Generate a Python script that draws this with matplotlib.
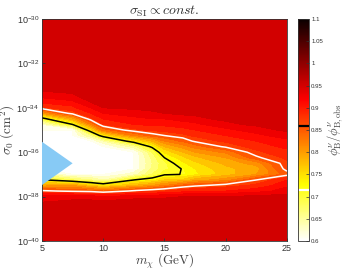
import numpy as np
import matplotlib
matplotlib.use("Agg")
import matplotlib.pyplot as plt
from matplotlib.colors import Normalize
from matplotlib.cm import ScalarMappable

plt.rcParams['font.family'] = ['Liberation Sans', 'DejaVu Sans']
plt.rcParams['mathtext.fontset'] = 'cm'

# dark matter mass grid (GeV)
m_chi = [5, 7.5, 9, 10, 12.5, 14, 15, 16.5, 17.5, 20, 22.5, 25]
# log10 of sigma_0 (cm^2)
log_sigma = [-40, -39, -38.5, -38.25, -38, -37.75, -37.5, -37.25, -37, -36.75,
             -36.5, -36.25, -36, -35.75, -35.5, -35.25, -35, -34.75, -34.5,
             -34.25, -34, -33.75, -33.5, -33.25, -33, -32, -30]

# phi_B / phi_B,obs, one list per mass (bottom -> top in log_sigma)
ratio_cols = [
    [0.95, 0.95, 0.95, 0.94, 0.925, 0.865, 0.79, 0.72, 0.64, 0.6, 0.6, 0.6, 0.6, 0.6,
     0.6, 0.6, 0.6, 0.62, 0.70, 0.80, 0.875, 0.905, 0.925, 0.94, 0.95, 0.95, 0.95],
    [0.95, 0.95, 0.95, 0.945, 0.93, 0.855, 0.80, 0.68, 0.6, 0.6, 0.6, 0.6, 0.6, 0.6,
     0.6, 0.6, 0.6, 0.715, 0.79, 0.87, 0.895, 0.915, 0.935, 0.945, 0.95, 0.95, 0.95],
    [0.95, 0.95, 0.95, 0.945, 0.93, 0.85, 0.76, 0.66, 0.6, 0.6, 0.6, 0.6, 0.6, 0.6,
     0.6, 0.66, 0.75, 0.82, 0.875, 0.9, 0.92, 0.94, 0.95, 0.95, 0.95, 0.95, 0.95],
    [0.95, 0.95, 0.95, 0.945, 0.92, 0.84, 0.74, 0.64, 0.6, 0.6, 0.6, 0.6, 0.6, 0.6,
     0.64, 0.74, 0.83, 0.88, 0.9, 0.92, 0.94, 0.95, 0.95, 0.95, 0.95, 0.95, 0.95],
    [0.95, 0.95, 0.95, 0.95, 0.93, 0.865, 0.78, 0.715, 0.63, 0.6, 0.6, 0.6, 0.6, 0.65,
     0.74, 0.82, 0.875, 0.9, 0.915, 0.93, 0.945, 0.95, 0.95, 0.95, 0.95, 0.95, 0.95],
    [0.95, 0.95, 0.95, 0.95, 0.93, 0.875, 0.80, 0.73, 0.68, 0.665, 0.66, 0.665, 0.68, 0.725,
     0.78, 0.85, 0.885, 0.905, 0.92, 0.935, 0.95, 0.95, 0.95, 0.95, 0.95, 0.95, 0.95],
    [0.95, 0.95, 0.95, 0.95, 0.935, 0.88, 0.82, 0.76, 0.71, 0.695, 0.695, 0.715, 0.745, 0.78,
     0.82, 0.86, 0.89, 0.905, 0.92, 0.94, 0.95, 0.95, 0.95, 0.95, 0.95, 0.95, 0.95],
    [0.95, 0.95, 0.95, 0.95, 0.94, 0.89, 0.845, 0.765, 0.716, 0.717, 0.735, 0.755, 0.78, 0.81,
     0.845, 0.875, 0.895, 0.91, 0.93, 0.945, 0.95, 0.95, 0.95, 0.95, 0.95, 0.95, 0.95],
    [0.95, 0.95, 0.95, 0.95, 0.94, 0.895, 0.855, 0.79, 0.735, 0.74, 0.755, 0.775, 0.80, 0.83,
     0.865, 0.885, 0.9, 0.915, 0.935, 0.945, 0.95, 0.95, 0.95, 0.95, 0.95, 0.95, 0.95],
    [0.95, 0.95, 0.95, 0.95, 0.94, 0.9, 0.87, 0.81, 0.77, 0.775, 0.785, 0.8, 0.825, 0.865,
     0.885, 0.9, 0.915, 0.935, 0.945, 0.95, 0.95, 0.95, 0.95, 0.95, 0.95, 0.95, 0.95],
    [0.95, 0.95, 0.95, 0.95, 0.945, 0.91, 0.885, 0.86, 0.80, 0.79, 0.81, 0.855, 0.875, 0.89,
     0.9, 0.915, 0.93, 0.945, 0.95, 0.95, 0.95, 0.95, 0.95, 0.95, 0.95, 0.95, 0.95],
    [0.95, 0.95, 0.95, 0.95, 0.945, 0.93, 0.915, 0.9, 0.85, 0.87, 0.875, 0.885, 0.895, 0.905,
     0.915, 0.93, 0.945, 0.95, 0.95, 0.95, 0.95, 0.95, 0.95, 0.95, 0.95, 0.95, 0.95],
]

# excluded wedge (blue triangle)
tri_m = [5, 7.5, 5]
tri_log_sigma = [-35.53, -36.5, -37.48]

contour_levels = [0.715, 0.86]
cbar_ticks = [0.6, 0.65, 0.7, 0.75, 0.8, 0.85, 0.9, 0.95, 1.0, 1.05, 1.1]

sigma = 10.0 ** np.array(log_sigma)
Z = np.array(ratio_cols).T
X, Y = np.meshgrid(m_chi, sigma)

fig = plt.figure(figsize=(3.45, 2.7), dpi=100)
ax = fig.add_axes([0.1217, 0.1074, 0.7101, 0.8222])
cax = fig.add_axes([0.8638, 0.1074, 0.0319, 0.8222])

norm = Normalize(0.6, 1.1)
ax.contourf(X, Y, Z, levels=np.arange(0.58, 1.101, 0.02), cmap='hot_r', norm=norm)
ax.contour(X, Y, Z, levels=[contour_levels[0]], colors='black', linewidths=1.1)
ax.contour(X, Y, Z, levels=[contour_levels[1]], colors='white', linewidths=1.1)
ax.fill(tri_m, 10.0 ** np.array(tri_log_sigma), color='#87CAF5', lw=0, zorder=5)

ax.set_yscale('log')
ax.set_xlim(5, 25)
ax.set_ylim(1e-40, 1e-30)
ax.set_xticks([5, 10, 15, 20, 25])
yt = [-40, -38, -36, -34, -32, -30]
ax.set_yticks([10.0 ** e for e in yt])
ax.set_yticklabels([r'$\mathregular{10^{%d}}$' % e for e in yt])
ax.minorticks_off()
ax.tick_params(direction='in', length=2.5, width=0.6, labelsize=6.5,
               colors='#333333', pad=2)
for s in ax.spines.values():
    s.set_linewidth(0.6)
    s.set_color('#333333')

ax.set_title(r'$\sigma_{\rm SI} \propto const.$', fontsize=10, color='#333333', pad=2)
ax.set_xlabel(r'$m_\chi\ ({\rm GeV})$', fontsize=9.5, color='#444444')
ax.xaxis.set_label_coords(0.5, -0.05)
ax.set_ylabel(r'$\sigma_0\ ({\rm cm}^2)$', fontsize=9.5, color='#444444')
ax.yaxis.set_label_coords(-0.1, 0.5)

cb = fig.colorbar(ScalarMappable(norm=norm, cmap='hot_r'), cax=cax)
cb.set_ticks(cbar_ticks)
cb.set_ticklabels(['%g' % t for t in cbar_ticks])
cb.ax.tick_params(direction='in', length=2, width=0.5, labelsize=4.4,
                  colors='#333333', pad=1.5)
cb.outline.set_linewidth(0.6)
cb.outline.set_edgecolor('#333333')
cax.axhline(contour_levels[1], color='black', lw=1.6)
cax.axhline(contour_levels[0], color='white', lw=1.6)
cb.set_label(r'$\phi^{\nu}_{\rm B}/\phi^{\nu}_{\rm B,obs}$', fontsize=9,
             color='#444444', labelpad=2)

fig.savefig('out.png', dpi=100)
